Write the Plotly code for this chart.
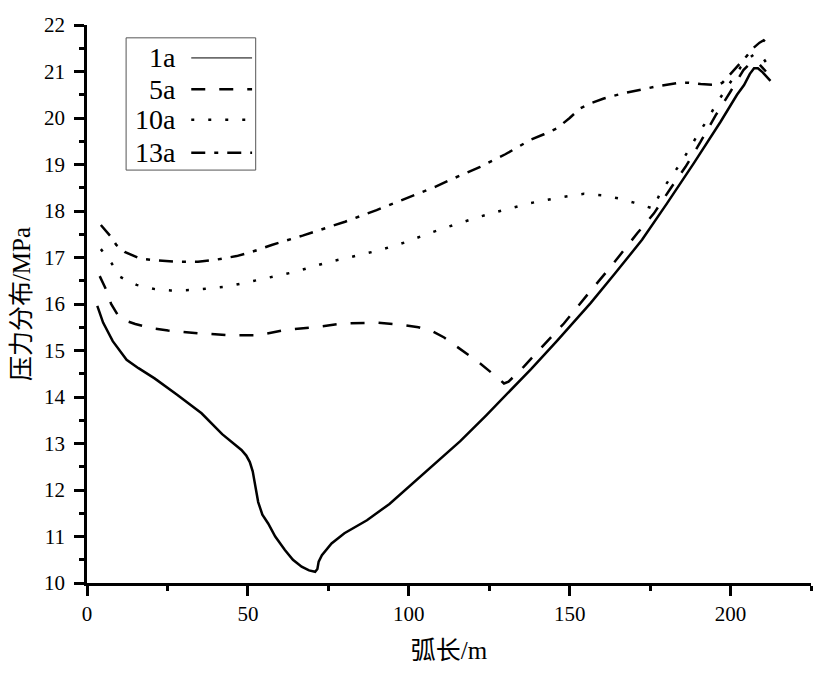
import plotly.graph_objects as go

# -----------------------------
# Data
# -----------------------------

x_1a = [3.2, 5, 8, 12.3, 16, 21, 28, 35.6, 42, 46, 48, 49.5, 50.6, 51.5, 52.3, 53.2,
        54.5, 56.3, 58.5, 61.5, 64, 66.7, 69, 70.9, 71.6, 72, 73, 76, 80, 87, 94, 100,
        108, 116, 124, 130, 138, 146, 156.5, 164, 172.5, 180.3, 188.6, 196.9, 202,
        204.2, 206, 207.3, 208.5, 210, 211.5, 212.4]
y_1a = [15.96, 15.6, 15.2, 14.8, 14.62, 14.4, 14.05, 13.65, 13.2, 12.98, 12.86, 12.74,
        12.6, 12.4, 12.1, 11.74, 11.47, 11.28, 11.0, 10.71, 10.5, 10.35, 10.27, 10.24,
        10.3, 10.46, 10.6, 10.85, 11.07, 11.35, 11.7, 12.07, 12.55, 13.05, 13.6, 14.02,
        14.6, 15.2, 16.02, 16.65, 17.38, 18.17, 19.03, 19.92, 20.5, 20.71, 20.95, 21.07,
        21.07, 20.98, 20.88, 20.8]

x_5a = [3.95, 6, 7.5, 9.6, 12, 15, 20, 25.2, 34.5, 43.9, 53.2, 61.5, 71.9, 79.5, 90,
        98.3, 103, 107.7, 111, 115, 122.2, 128.4, 129.6, 131, 135.7, 142, 148.2, 155.4,
        163, 171, 176.2, 181.4, 186, 190.7, 195.4, 200, 204, 206, 207.3, 209, 211]
y_5a = [16.6, 16.3, 16.0, 15.76, 15.64, 15.57, 15.48, 15.43, 15.37, 15.33, 15.33,
        15.44, 15.51, 15.58, 15.6, 15.55, 15.5, 15.4, 15.28, 15.08, 14.72, 14.37, 14.29,
        14.33, 14.65, 15.12, 15.58, 16.19, 16.82, 17.52, 17.95, 18.49, 18.95, 19.49,
        20.06, 20.57, 21.03, 21.17, 21.2, 21.15, 21.0]

x_10a = [4.3, 6, 7.6, 10.2, 12.5, 15.4, 21.1, 26, 32, 37, 42.9, 48, 53.2, 58, 64.6,
         70, 75.5, 80.2, 91.1, 99, 106.7, 114, 122.2, 130, 137.8, 146, 150, 154.4, 160,
         165.3, 170, 174.6, 176, 178.2, 181.3, 184.5, 187, 189.7, 192.8, 195.4, 199,
         203.2, 206, 208, 210, 211.5]
y_10a = [17.18, 17.03, 16.88, 16.59, 16.5, 16.41, 16.32, 16.29, 16.3, 16.33, 16.37,
         16.44, 16.52, 16.6, 16.69, 16.8, 16.91, 16.98, 17.16, 17.33, 17.53, 17.7, 17.88,
         18.03, 18.17, 18.28, 18.33, 18.37, 18.34, 18.27, 18.18, 18.09, 18.05, 18.4,
         18.7, 19.03, 19.31, 19.63, 19.96, 20.28, 20.67, 21.1, 21.3, 21.4, 21.3, 21.15]

x_13a = [4.3, 7.4, 9.1, 11.7, 16.4, 20, 27.8, 34.5, 39.8, 43.4, 46.5, 51.2, 57.4, 67,
         75.5, 80.2, 90, 101.5, 108.2, 112.9, 122.2, 130, 137.8, 142, 146.1, 150, 153.3,
         157, 160.6, 166, 171, 177, 183.4, 187, 190.7, 195.9, 197.5, 199, 201, 203, 205,
         207, 209, 210.3, 211.5]
y_13a = [17.7, 17.45, 17.27, 17.12, 16.98, 16.95, 16.91, 16.91, 16.95, 17.0, 17.03,
         17.12, 17.27, 17.47, 17.66, 17.77, 18.02, 18.34, 18.52, 18.67, 18.95, 19.22,
         19.53, 19.65, 19.78, 20.0, 20.21, 20.33, 20.42, 20.52, 20.6, 20.68, 20.75, 20.76,
         20.73, 20.71, 20.76, 20.87, 21.02, 21.18, 21.33, 21.5, 21.62, 21.67, 21.6]

names = ["1a", "5a", "10a", "13a"]
dashes = ["solid", "14px,14px", "3px,14px", "14px,9px,4px,9px"]

series = [(x_1a, y_1a), (x_5a, y_5a), (x_10a, y_10a), (x_13a, y_13a)]

FONT = "Liberation Serif, Noto Sans CJK SC, serif"

fig = go.Figure()

for (xs, ys), name, dash in zip(series, names, dashes):
    fig.add_trace(go.Scatter(
        x=xs, y=ys, mode="lines", name=name,
        line=dict(color="black", width=2.5, dash=dash),
        showlegend=False,
    ))

# -----------------------------
# Legend box (label first, then sample line)
# -----------------------------

row_y = [0.941, 0.885, 0.830, 0.771]
fig.add_shape(type="rect", xref="paper", yref="paper",
              x0=0.054, x1=0.233, y0=0.740, y1=0.977,
              line=dict(color="#555555", width=1))
for name, dash, yy in zip(names, dashes, row_y):
    fig.add_annotation(x=0.125, y=yy, xref="paper", yref="paper",
                       text=name, showarrow=False, xanchor="right",
                       yanchor="middle", font=dict(family=FONT, size=28, color="black"))
    fig.add_shape(type="line", xref="paper", yref="paper",
                  x0=0.144, x1=0.228, y0=yy, y1=yy,
                  line=dict(color="black", width=1 if dash == "solid" else 2.5,
                            dash=dash))

axis_style = dict(
    showline=True, linecolor="black", linewidth=2.5,
    ticks="outside", ticklen=10, tickwidth=2.5, tickcolor="black",
    showgrid=False, zeroline=False, mirror=False,
    tickfont=dict(family=FONT, size=21, color="black"),
)

fig.update_xaxes(
    range=[0, 225], tick0=0, dtick=50,
    minor=dict(dtick=25, ticks="outside", ticklen=5, tickwidth=2.5, tickcolor="black"),
    title=dict(text="弧长/m", font=dict(family=FONT, size=25, color="black"), standoff=17),
    **axis_style,
)
fig.update_yaxes(
    range=[10, 22], tick0=10, dtick=1, ticklabelstandoff=5,
    minor=dict(dtick=0.5, ticks="outside", ticklen=5, tickwidth=2.5, tickcolor="black"),
    title=dict(text="压力分布/MPa", font=dict(family=FONT, size=25, color="black"), standoff=8),
    **axis_style,
)

# the page body adds an 8px offset, so margins are shifted by that amount
fig.update_layout(
    width=827, height=674,
    margin=dict(l=79, r=24, t=17, b=99, autoexpand=False),
    plot_bgcolor="white", paper_bgcolor="white",
    font=dict(family=FONT, color="black"),
)

fig.write_html("out.html")
